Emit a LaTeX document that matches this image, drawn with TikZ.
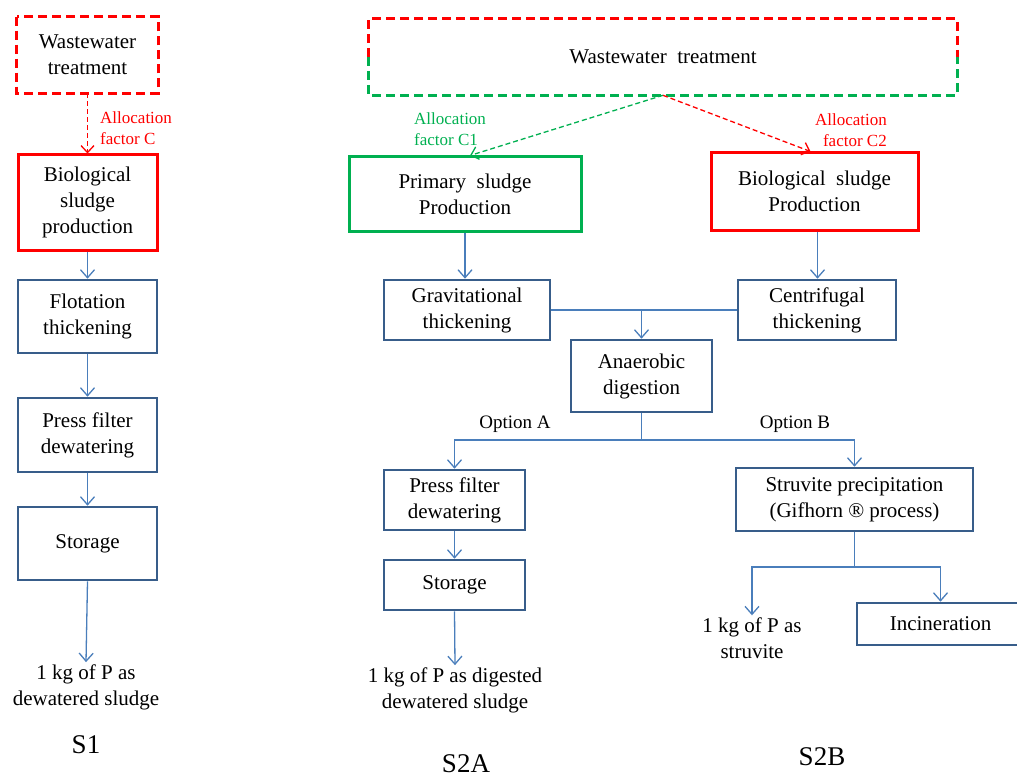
\documentclass[tikz,border=0pt]{standalone}
\usepackage{fontspec}
\setmainfont{Liberation Serif}
\usetikzlibrary{arrows.meta}
\definecolor{boxblue}{HTML}{385D8A}
\definecolor{lineblue}{HTML}{4A7EBB}
\definecolor{ggreen}{HTML}{00B050}
\definecolor{rred}{HTML}{FF0000}
\tikzset{
  box/.style={draw=boxblue, line width=2.6pt, align=center, inner sep=0pt, font=\fontsize{21}{26}\selectfont},
  redbox/.style={box, draw=rred, line width=3pt},
  greenbox/.style={box, draw=ggreen, line width=3pt},
  dashbox/.style={line width=3pt, dash pattern=on 9pt off 5pt},
  txt/.style={align=center, inner sep=5pt, font=\fontsize{21}{26}\selectfont},
  small/.style={align=left, inner sep=0pt, font=\fontsize{17}{21}\selectfont},
  opt/.style={inner sep=0pt, font=\fontsize{19}{21}\selectfont},
  big/.style={inner sep=0pt, font=\fontsize{27}{30}\selectfont},
  conn/.style={draw=lineblue, line width=1.3pt},
  arr/.style={conn, -{Straight Barb[length=8pt,width=14pt,line width=1.3pt]}},
  darr/.style={line width=1.3pt, dash pattern=on 5pt off 3pt, -{Straight Barb[length=7pt,width=13pt,line width=1.3pt]}}
}
\begin{document}
\begin{tikzpicture}[x=1pt,y=-1pt]
\useasboundingbox (0,0) rectangle (1017,778);
% ---------- S1 ----------
\node[box, draw=none, minimum width=139pt, minimum height=74pt] (ww1) at (87.5,55) {Wastewater\\treatment};
\draw[rred, dashbox] (ww1.north west) rectangle (ww1.south east);
\node[redbox, minimum width=139pt, minimum height=95pt] (bio1) at (87.5,202.5) {Biological\\sludge\\production};
\node[box, minimum width=139pt, minimum height=73pt] (flot1) at (87.5,316.5) {Flotation\\thickening};
\node[box, minimum width=139pt, minimum height=74pt] (press1) at (87.5,435) {Press filter\\dewatering};
\node[box, minimum width=139pt, minimum height=73pt] (stor1) at (87.5,543.5) {Storage};
\node[txt] (out1) at (86,687) {1 kg of P as\\dewatered sludge};
\node[big] (s1) at (86,745) {S1};
\node[small, text=rred, anchor=west] (alc) at (100,128) {Allocation\\factor C};
\draw[darr, rred] (ww1.south) -- (bio1.north);
\draw[arr] (bio1) -- (flot1);
\draw[arr] (flot1) -- (press1);
\draw[arr] (press1) -- (stor1);
\draw[arr] (stor1.south) -- ([yshift=-3pt]out1.north);
% ---------- S2 ----------
\node[box, draw=none, minimum width=586pt, minimum height=74pt] (ww2) at (663,57) {Wastewater\ \ treatment};
\draw[rred, dashbox] (ww2.west) |- (ww2.north east) -- (ww2.east);
\draw[ggreen, dashbox] (ww2.west) |- (ww2.south east) -- (ww2.east);
\node[greenbox, minimum width=232pt, minimum height=74pt] (ps) at (465,194) {Primary\ \ sludge\\Production};
\node[redbox, minimum width=207pt, minimum height=77pt] (bs) at (814.5,191.5) {Biological\ \ sludge\\Production};
\node[small, text=ggreen, anchor=west] (alc1) at (414,129) {Allocation\\factor C1};
\node[small, text=rred, anchor=east, align=right] (alc2) at (887,130) {Allocation\\factor C2};
\draw[darr, ggreen] (ww2.south) -- ([xshift=5pt]ps.north);
\draw[darr, rred] (ww2.south) -- ([xshift=-4pt]bs.north);
\node[box, minimum width=166pt, minimum height=60pt] (grav) at (467,310) {Gravitational\\thickening};
\node[box, minimum width=158pt, minimum height=60pt] (cent) at (817,310) {Centrifugal\\thickening};
\node[box, minimum width=141pt, minimum height=72pt] (ana) at (641.5,376) {Anaerobic\\digestion};
\draw[arr] (ps.south) -- (ps.south |- grav.north);
\draw[arr] ([xshift=3pt]bs.south) -- ([xshift=3pt]bs.south |- cent.north);
\draw[conn] (grav.east) -- (cent.west);
\coordinate (j1) at (ana.north |- grav.east);
\draw[arr] (j1) -- (ana.north);
\node[box, minimum width=141pt, minimum height=60pt] (press2) at (454.5,500) {Press filter\\dewatering};
\node[box, minimum width=141pt, minimum height=50pt] (stor2) at (454.5,585) {Storage};
\node[box, minimum width=237pt, minimum height=63pt] (stru) at (854.5,499.5) {Struvite precipitation\\(Gifhorn ® process)};
\coordinate (j2) at (641.5,440);
\draw[conn] (ana.south) -- (j2);
\draw[arr] (j2) -| (press2.north);
\draw[arr] (j2) -| (stru.north);
\node[opt] (opa) at (515,424) {Option A};
\node[opt] (opb) at (795,424) {Option B};
\draw[arr] (press2) -- (stor2);
\node[txt] (out2) at (455,690) {1 kg of P as digested\\dewatered sludge};
\draw[arr] (stor2.south) -- ([yshift=-3pt]out2.north);
\node[big] (s2a) at (466,764) {S2A};
\node[box, minimum width=167pt, minimum height=42pt] (inc) at (940.5,624) {Incineration};
\node[txt] (out3) at (752,638) {1 kg of P as\\struvite};
\coordinate (j3) at (854.5,567);
\draw[conn] (stru.south) -- (j3);
\draw[arr] (j3) -| ([yshift=-3pt]out3.north);
\draw[arr] (j3) -| (inc.north);
\node[big] (s2b) at (822,757) {S2B};
\end{tikzpicture}
\end{document}
